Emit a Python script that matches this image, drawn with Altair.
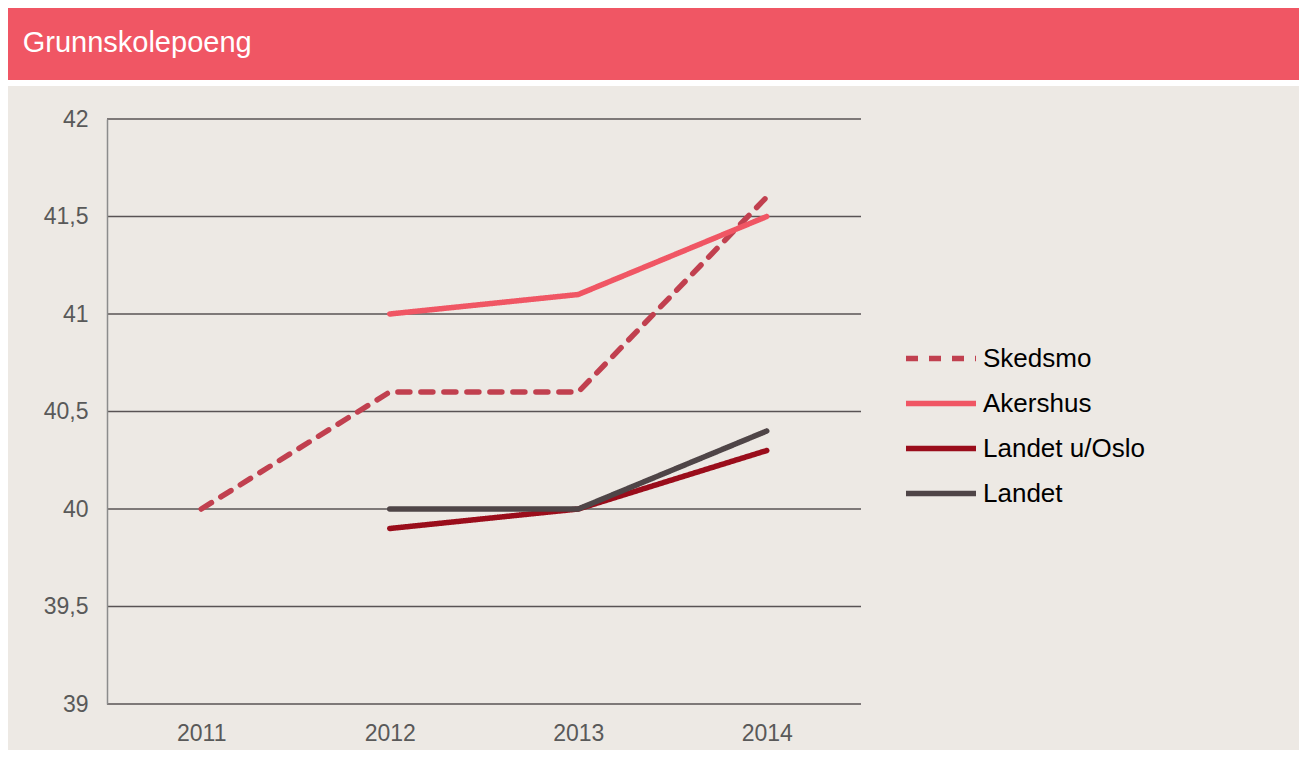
import altair as alt
import pandas as pd

years = ["2011", "2012", "2013", "2014"]
series = ["Skedsmo", "Akershus", "Landet u/Oslo", "Landet"]
skedsmo = [40.0, 40.6, 40.6, 41.6]
akershus = [None, 41.0, 41.1, 41.5]
landet_u_oslo = [None, 39.9, 40.0, 40.3]
landet = [None, 40.0, 40.0, 40.4]
y_ticks = [39, 39.5, 40, 40.5, 41, 41.5, 42]
header_text = "Grunnskolepoeng"

colors = ["#C1404F", "#F05664", "#9A0D1B", "#4F4547"]
dashes = [[12, 11], [1, 0], [1, 0], [1, 0]]

rows = []
for name, vals in zip(series, [skedsmo, akershus, landet_u_oslo, landet]):
    for yr, v in zip(years, vals):
        if v is not None:
            rows.append({"year": yr, "value": v, "series": name})
df = pd.DataFrame(rows)

W, H = 754, 585
PL, PT = 99, 111
TOTAL_W, TOTAL_H = 1291, 742

one = alt.Data(values=[{"a": 1}])

band = alt.Chart(one).mark_rect(color="#F05664").encode(
    x=alt.value(-PL), x2=alt.value(TOTAL_W - PL),
    y=alt.value(-PT), y2=alt.value(72 - PT),
)
panel = alt.Chart(one).mark_rect(color="#EDE9E4").encode(
    x=alt.value(-PL), x2=alt.value(TOTAL_W - PL),
    y=alt.value(78 - PT), y2=alt.value(TOTAL_H - PT),
)
header = alt.Chart(one).mark_text(
    text=header_text, color="white", font="Liberation Sans", fontSize=29,
    align="left", baseline="alphabetic",
).encode(x=alt.value(14.7 - PL), y=alt.value(43.7 - PT))

yscale = alt.Scale(domain=[39, 42], nice=False, zero=False)

grid = alt.Chart(pd.DataFrame({"t": y_ticks})).mark_rule(
    color="#595354", strokeWidth=1.5
).encode(y=alt.Y("t:Q", scale=yscale))

lines = alt.Chart(df).mark_line(strokeWidth=5.5, strokeCap="round").encode(
    x=alt.X("year:O", sort=years, scale=alt.Scale(type="point", padding=0.5),
            axis=alt.Axis(title=None, labelAngle=0, domain=False, ticks=False,
                          tickSize=0, labelPadding=18, labelFontSize=23,
                          labelColor="#595959", labelFont="Liberation Sans",
                          zindex=1)),
    y=alt.Y("value:Q", scale=yscale,
            axis=alt.Axis(title=None, values=y_ticks, grid=False, ticks=False,
                          tickSize=0, labelPadding=19, labelFontSize=23,
                          labelColor="#595959", labelFont="Liberation Sans",
                          labelExpr="replace(toString(datum.value), '.', ',')",
                          domainColor="#8C8C8C", domainWidth=1.5, zindex=1)),
    color=alt.Color("series:N", scale=alt.Scale(domain=series, range=colors),
                    sort=series,
                    legend=alt.Legend(title=None, orient="none", legendX=796,
                                      legendY=217, symbolType="stroke",
                                      symbolSize=4900, symbolStrokeWidth=5.5,
                                      labelFontSize=26, labelFont="Liberation Sans",
                                      labelColor="#000000", labelOffset=4,
                                      labelLimit=400, clipHeight=45,
                                      rowPadding=0, padding=0, zindex=1)),
    strokeDash=alt.StrokeDash("series:N", scale=alt.Scale(domain=series, range=dashes),
                              sort=series, legend=None),
    detail="series:N",
)

chart = alt.layer(band, panel, header, grid, lines).properties(
    width=W, height=H,
    padding={"left": PL, "top": PT, "right": TOTAL_W - PL - W, "bottom": TOTAL_H - PT - H},
    autosize=alt.AutoSizeParams(type="none"),
    background="white",
).configure_view(stroke=None)

chart.save("out.html", embed_options={"renderer": "svg", "actions": False})
